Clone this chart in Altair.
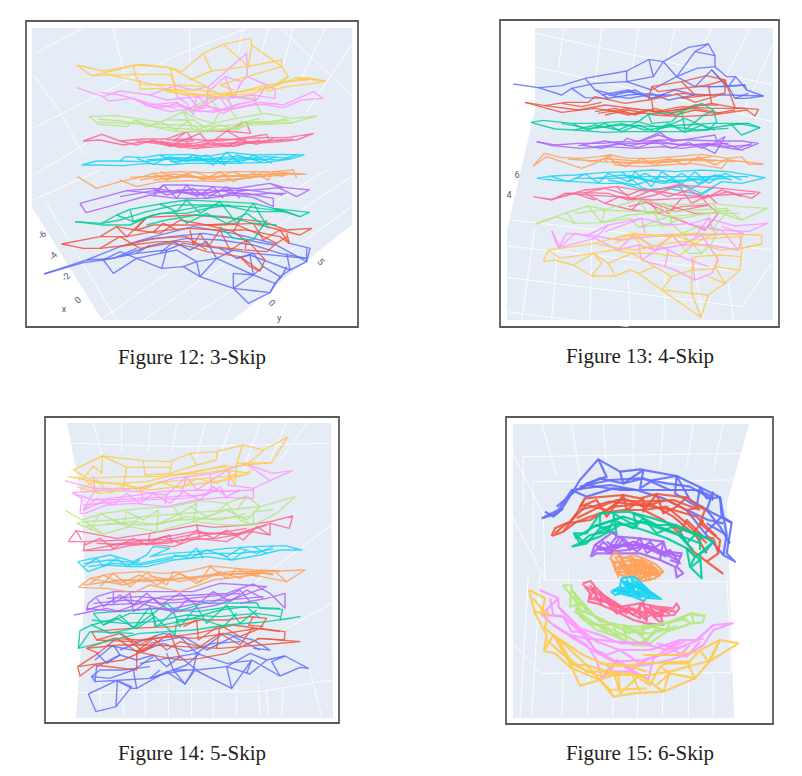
import altair as alt
import pandas as pd

TILES = {"A": (20, 15), "B": (20, 170), "C": (495, 15), "D": (495, 170),
         "E": (40, 410), "F": (40, 570), "G": (500, 410), "H": (500, 575)}
SERIES = ["blue", "red", "green", "purple", "orange", "cyan", "pink", "lime", "magenta", "yellow"]
COLORS = ["#636EFA", "#EF553B", "#00CC96", "#AB63FA", "#FFA15A", "#19D3F3", "#FF6692", "#B6E880", "#FF97FF", "#FECB52"]

# ---------- Figure 12 ----------
F12_BLUE = ("B", [
 [(72,312),(200,270),(300,230),(400,200),(520,170),(640,190),(760,220),(860,275),(870,235),(810,220)],
 [(72,312),(190,278),(250,270),(280,310),(350,265),(425,295),(490,290),(540,320),(640,355),(685,400),(750,368),(765,340),(785,320),(800,290)],
 [(250,270),(350,250),(440,240),(490,220),(600,235),(700,250),(860,265)],
 [(350,265),(420,250),(470,240),(530,275),(590,265),(640,240)],
 [(490,290),(530,275),(540,320)],
 [(640,310),(640,355),(750,368)],
 [(590,265),(700,315),(765,340)],
 [(640,310),(700,315),(730,290),(780,320)],
 [(440,240),(425,295)],
 [(650,265),(690,255),(810,300),(800,250)],
 [(300,260),(400,225),(500,205),(600,210),(700,225),(780,250),(860,265)],
 [(350,215),(450,200),(550,190),(650,205),(760,225)],
 [(860,235),(860,275)],
 [(250,270),(300,245),(350,265)],[(420,250),(460,215),(510,240),(560,215),(590,265)],[(600,235),(650,265),(700,250),(730,290)],
 [(700,315),(690,255)],[(780,320),(810,300),(860,275)],[(350,250),(390,225)],[(200,270),(280,265),(350,235)],
 [(540,320),(590,265)],[(640,355),(700,315)],[(750,368),(780,320)]])
F12_RED = ("B", [
 [(125,222),(240,200),(290,170),(345,180),(380,142),(520,135),(640,145),(730,155),(800,180),(875,175),(840,195),(780,180),(700,160),(600,165),(500,165),(400,165),(350,180)],
 [(125,222),(190,235),(240,235),(300,200),(360,235),(450,220),(510,230),(560,245),(660,260),(720,303),(735,270),(690,220),(640,185),(560,165)],
 [(240,200),(320,200),(400,185),(500,175),(600,180),(680,180),(780,200),(808,220),(800,190)],
 [(510,180),(520,225),(540,190),(565,230),(600,180),(630,240),(680,210),(675,240),(740,245),(770,220),(800,200)],
 [(300,230),(400,205),(500,200),(560,240)],
 [(660,260),(690,290),(720,303)],
 [(240,235),(330,225),(420,215),(500,215),(580,230),(670,240)],[(345,180),(420,190),(480,150),(560,165),(640,160),(710,190),(770,220)],
 [(290,170),(320,200),(380,142)],[(400,185),(430,160),(470,180)],[(700,160),(730,210),(780,180),(808,220)],[(660,150),(640,185)]])
F12_GREEN = ("B", [
 [(165,155),(245,160),(290,135),(330,118),(420,102),(500,90),(600,95),(700,100),(760,115),(868,127),(840,140),(760,115)],
 [(165,155),(250,165),(330,165),(400,135),(460,125),(540,110),(610,105),(700,125),(800,125)],
 [(290,135),(340,155),(420,130),(500,130),(560,115),(630,105)],
 [(420,102),(470,125),(500,90),(540,130),(600,95),(650,160),(700,100),(745,175)],
 [(380,165),(440,150),(530,135),(620,140),(700,160),(770,165)],
 [(600,170),(640,205),(700,210),(740,150)],
 [(330,118),(340,155),(400,135)],[(460,125),(500,160),(560,130),(620,160),(680,130),(730,165)],
 [(245,160),(300,150),(380,125),(470,105),(570,105),(680,110),(800,125)],[(760,115),(800,125),(840,140)]])
F12_PURPLE = ("B", [
 [(180,100),(320,62),(400,70),(430,45),(500,45),(580,50),(650,55),(750,40),(830,80),(868,60),(790,52),(750,40)],
 [(180,100),(198,128),(300,100),(390,75),(470,85),(560,85),(640,75),(700,82),(760,110),(760,85),(680,70),(620,70)],
 [(320,62),(400,55),(480,65),(560,70),(640,55),(720,65),(790,75)],
 [(430,45),(470,85),(500,45),(530,80),(580,50),(610,85)],
 [(400,70),(480,60),(550,60),(620,62),(700,60),(790,52)],
 [(400,55),(440,75),(520,55),(560,85),(620,50),(660,85)],[(470,60),(520,75),(600,62),(680,75),(750,70),(800,70)],
 [(300,80),(400,62),(500,70),(600,78),(680,60)],[(430,45),(400,80)]])
F12_ORANGE = ("B", [
 [(172,20),(230,55),(300,35),(360,22),(400,10),(480,5),(560,8),(650,5),(760,5),(860,13),(780,10),(700,22),(600,35),(500,32),(420,35),(350,50),(300,30)],
 [(400,10),(440,30),(500,10),(550,30),(600,5),(640,35),(700,8),(745,30),(760,5),(820,0),(830,25)],
 [(330,22),(420,18),(520,22),(610,18),(720,20),(800,15)],
 [(420,5),(470,25),(520,5),(580,25),(640,5),(690,25),(730,5),(790,20)],[(360,30),(460,12),(560,25),(660,15),(760,12),(850,12)],
 [(400,30),(500,18),(590,30),(680,25)]])
F12_CYAN = ("A", [
 [(185,450),(230,438),(300,438),(315,425),(370,428),(420,420),(510,418),(560,425),(630,412),(700,420),(780,418),(852,420),(810,432),(740,442),(640,445),(570,445),(500,445),(440,450),(380,445),(310,452),(230,450),(185,450)],
 [(300,438),(370,440),(450,432),(530,438),(590,432),(660,432),(740,425),(810,430)],
 [(420,420),(470,445),(520,420),(580,450),(620,412),(660,445),(700,420),(755,445)],
 [(430,430),(530,428),(610,442),(700,432),(780,435),(830,420)],
 [(615,452),(600,425)],
 [(350,430),(400,448),(450,425),(500,440),(560,420),(610,448),(650,420),(720,440),(770,425)],
 [(450,440),(550,432),(640,425),(720,435)],[(380,435),(480,428),(570,440),(660,440)]])
F12_PINK = ("A", [
 [(190,378),(245,358),(300,378),(370,372),(440,372),(500,350),(620,348),(678,320),(692,355),(620,348),(580,378)],
 [(190,378),(240,375),(310,390),(370,380),(440,390),(520,400),(600,395),(680,385),(760,382),(830,375),(880,356),(800,368),(740,368),(660,370),(600,378),(500,372),(440,375)],
 [(350,378),(440,382),(520,392),(600,385),(700,380),(790,375)],
 [(500,350),(520,378),(460,378),(500,350)],
 [(620,348),(660,370),(740,358),(745,372)],
 [(420,378),(480,398),(560,385),(640,395),(720,375)],
 [(300,378),(350,390),(400,375),(450,395),(490,375),(530,402),(570,380),(620,395),(660,375),(710,388),(760,370)],
 [(400,380),(470,390),(550,395),(640,385),(740,378),(820,372)],[(440,388),(520,385),(600,372),(680,375)],[(500,372),(540,355),(560,378)]])
F12_LIME = ("A", [
 [(208,305),(290,302),(345,310),(420,322),(490,290),(570,250),(625,243),(700,250),(725,295),(700,250)],
 [(208,305),(235,327),(320,335),(345,315),(420,340),(470,350),(580,350),(680,330),(810,325),(890,303),(820,310),(735,295),(650,310),(580,325),(530,310),(490,292),(520,345)],
 [(235,312),(300,318),(345,325),(400,335),(470,340),(560,345),(650,340),(690,325),(810,315)],
 [(570,250),(600,290),(580,325),(540,340)],
 [(625,243),(635,290),(650,310)],
 [(440,315),(520,315),(560,340)],
 [(660,320),(740,325),(820,322)],
 [(345,315),(380,335),(420,320),(470,345),(500,320),(550,350),(600,330),(650,345),(700,320),(760,320),(800,310)],
 [(400,328),(480,330),(560,335),(640,330),(720,310)],[(235,320),(300,325),(350,325)],[(570,250),(520,290),(490,292)]])
F12_MAGENTA = ("A", [
 [(170,218),(250,245),(300,228),(390,240),(465,212),(520,225),(565,215),(680,115),(682,185),(740,210),(765,222),(765,250),(700,240),(620,250)],
 [(250,245),(265,258),(340,250),(390,270),(470,262),(500,280),(560,270),(610,295),(640,280),(720,262),(790,270),(880,230),(908,250),(845,255),(790,278),(730,268)],
 [(340,250),(380,272),(450,290),(500,283),(580,292),(650,270),(710,255),(625,245)],
 [(465,212),(470,245),(500,265),(520,300),(530,240),(560,270),(565,215)],
 [(615,185),(665,200),(640,250),(615,185),(560,235)],
 [(680,185),(665,200)],
 [(390,240),(440,255),(530,245),(620,250),(640,278)],
 [(240,232),(300,240),(380,262),(470,280)],
 [(370,265),(420,280),(470,265),(520,285),(570,275),(610,285),(660,265)],[(400,275),(470,272),(540,290),(620,285),(700,270),(770,265)],
 [(500,240),(540,280),(600,245),(625,285)],[(700,240),(710,255),(740,210)]])
F12_YELLOW = ("A", [
 [(170,150),(215,182),(290,165),(345,150),(450,158),(510,190),(560,215),(600,240),(680,228),(760,215),(830,188),(915,198),(860,188),(780,205),(700,235),(590,245),(480,235),(430,225)],
 [(170,150),(250,168),(340,152),(365,148),(450,158),(485,170),(550,115),(610,88),(692,70),(695,90),(785,155),(805,185),(740,225)],
 [(550,115),(575,168),(510,195),(575,168),(680,155),(785,135),(785,155),(680,185),(600,210)],
 [(610,88),(685,155),(695,90)],
 [(215,182),(345,178),(450,178),(465,210),(450,158)],
 [(340,152),(345,178),(360,208),(465,210),(560,215)],
 [(360,195),(360,222),(430,220),(520,235),(590,245)],
 [(250,175),(360,200),(430,215)],
 [(465,210),(470,240)],
 [(805,185),(780,205)],
 [(830,188),(915,198),(880,205),(800,215),(740,230)],
 [(430,225),(480,225),(540,225),(600,235),(660,230),(720,215),(800,200)],[(440,230),(500,240),(580,238),(650,238)],
 [(800,200),(860,195),(830,188)],[(600,210),(640,225)]])

# ---------- Figure 13 ----------
F13_BLUE = ("C", [
 [(55,207),(130,218),(200,212),(270,190),(395,168),(462,133),(505,140),(580,97),(640,87),(660,122),(660,155),(695,185),(722,185),(755,225),(805,243),(755,250),(720,250),(700,215),(640,215)],
 [(462,133),(475,185),(395,200),(395,168)],
 [(505,140),(545,185),(600,110),(640,87)],
 [(475,185),(505,140)],
 [(600,110),(660,122)],
 [(545,185),(600,215),(650,165),(695,215),(750,210),(755,225)],
 [(130,218),(200,240),(230,220),(270,248),(340,250),(400,240),(470,235),(520,255),(600,240),(700,240),(805,243)],
 [(270,190),(300,225),(340,250)],
 [(230,220),(300,205),(395,200),(470,225),(545,185)],
 [(320,240),(400,225),(470,250),(540,225),(600,240)],
 [(650,165),(700,215)],
 [(300,225),(360,240),(420,225),(470,250),(510,240)],[(340,240),(400,250),(460,240),(530,240)],[(660,155),(605,160),(545,185)],
 [(700,215),(722,185)],[(600,215),(660,215),(750,210)],[(720,250),(760,235)],[(360,235),(400,230),(440,240)]])
F13_RED = ("C", [
 [(90,262),(200,292),(300,280),(400,295),(470,295),(540,285),(650,265),(720,278),(790,283),(780,303),(755,285),(650,300),(560,305),(480,300),(400,285),(330,300)],
 [(90,262),(150,272),(210,262),(280,262),(300,245),(390,265),(460,255),(470,215),(560,200),(635,182),(690,195),(690,235),(560,250)],
 [(470,215),(490,230),(640,210),(690,195)],
 [(560,200),(600,240)],
 [(690,195),(720,278)],
 [(540,235),(600,262),(690,235)],
 [(150,272),(250,285),(330,270),(410,280),(480,290),(560,275),(650,280),(750,280)],
 [(470,255),(475,290)],
 [(310,295),(400,280),(500,290),(600,280),(680,295)],
 [(300,290),(360,280),(420,300),(480,280),(540,300),(600,285),(660,295),(720,285)],[(340,285),(400,300),(460,285),(520,300),(600,270),(670,270)],
 [(200,265),(260,275),(320,262)],[(640,210),(650,265)],[(460,255),(560,235),(640,240)]])
F13_GREEN = ("C", [
 [(108,322),(145,316),(230,325),(300,325),(370,320),(430,320),(460,298),(560,290),(620,265),(655,285),(665,320),(640,345),(560,350),(480,350),(400,350),(330,352),(240,345)],
 [(108,322),(180,342),(240,345),(300,330),(370,345),(430,320),(500,340),(570,310),(640,340),(730,325),(795,338),(740,360),(710,330),(640,340)],
 [(460,298),(470,325),(530,320),(560,290),(570,345),(620,305),(655,285)],
 [(200,325),(280,340),(380,330),(470,335),(570,330),(650,325),(760,325),(795,338)],
 [(230,325),(280,345),(330,325),(380,350),(430,330),(480,350),(520,325),(570,352),(620,330),(660,345)],
 [(300,340),(380,325),(450,345),(530,335),(610,345),(700,340)],[(710,330),(760,325)]])
F13_PURPLE = ("C", [
 [(125,380),(180,390),(250,385),(320,385),(385,380),(395,370),(430,380),(495,352),(530,380),(660,360),(665,378),(690,365),(660,415),(620,395)],
 [(125,380),(170,392),(260,400),(340,395),(420,400),(500,395),(560,400),(640,390),(740,405),(790,385),(740,378),(670,378),(580,375),(500,375),(420,380),(340,382)],
 [(250,392),(330,378),(400,392),(490,378),(560,392),(640,385),(700,395),(770,390)],
 [(260,390),(320,400),(370,385),(430,398),(480,380),(530,400),(580,382),(620,400),(670,380),(730,400),(770,385)],
 [(300,395),(400,385),(500,385),(600,390),(700,385)],[(430,380),(490,360),(540,375)]])
F13_ORANGE = ("C", [
 [(115,453),(148,415),(200,428),(260,430),(310,425),(345,420),(400,430),(470,430),(540,425),(620,418),(700,430),(740,425),(760,448),(805,448)],
 [(115,453),(155,425),(260,460),(300,445),(345,420),(360,450),(440,455),(510,450),(590,445),(680,460),(700,435),(805,447)],
 [(220,432),(320,440),(400,445),(500,435),(600,432),(720,440)],
 [(330,430),(420,438),(520,442),(650,425)],
 [(280,440),(340,430),(390,455),(440,430),(480,452),(520,430),(570,450),(610,425),(660,450),(700,430)],
 [(360,440),(460,445),(560,435),(660,438)],[(345,420),(330,440)]])
F13_CYAN = ("D", [
 [(125,25),(170,18),(240,15),(320,8),(400,5),(470,0),(540,5),(620,0),(700,5),(810,23),(740,40),(680,35),(620,70),(570,50),(450,60),(380,40),(320,40),(240,35),(170,30),(125,25)],
 [(310,40),(340,10),(400,35),(420,5),(470,50),(500,5),(560,42),(600,5),(640,40),(690,10),(740,30)],
 [(240,25),(350,25),(450,20),(550,20),(650,20),(760,20)],
 [(380,5),(450,60),(520,55),(620,75),(660,50)],
 [(400,15),(500,40),(600,30),(700,25)],
 [(170,20),(220,35),(270,12),(310,38)],[(400,35),(450,10),(510,38),(560,10),(610,40),(660,15),(710,30)],
 [(300,25),(380,15),(470,35),(570,30),(680,15)],[(340,30),(420,45),(500,20),(590,55),(640,30)]])
F13_PINK = ("D", [
 [(115,80),(170,88),(270,60),(365,50),(460,65),(550,45),(680,55),(795,67),(770,85),(700,65),(640,80),(550,75),(470,60),(400,90),(340,70),(270,68),(210,70),(170,90),(115,80)],
 [(270,70),(330,100),(410,120),(490,130),(560,110),(640,105),(670,130),(630,180),(540,145),(490,130),(465,95),(400,110)],
 [(365,50),(410,90),(480,75),(550,45),(590,100),(640,75),(665,100)],
 [(210,70),(360,80),(470,90),(560,85),(680,75),(780,70)],
 [(330,100),(375,80),(465,95),(540,125),(640,105)],
 [(170,88),(240,70),(300,90)],[(270,68),(330,55),(400,75),(450,55),(520,80),(580,60),(630,85),(680,60),(740,80)],
 [(410,120),(440,90),(520,130),(560,85)],[(640,105),(610,70)],[(500,100),(600,130),(670,130)]])
F13_LIME = ("D", [
 [(122,162),(215,128),(280,108),(330,118),(430,90),(520,105),(650,100),(735,110),(818,115),(740,150),(700,120),(640,130)],
 [(122,162),(185,140),(240,160),(320,158),(405,145),(430,172),(530,160),(560,190),(620,250),(650,220),(670,180)],
 [(215,128),(240,160)],
 [(280,108),(320,158),(400,135),(480,130),(560,145),(640,130),(735,130)],
 [(430,90),(460,130),(520,105),(530,160)],
 [(650,100),(680,130),(740,150)],
 [(320,120),(430,125),(520,125),(600,120),(700,115)],
 [(530,190),(580,250),(620,250)],
 [(480,130),(500,170),(560,145)],[(430,172),(520,140),(640,130),(650,180),(700,120)],[(240,130),(330,118),(320,158)],[(560,190),(610,170),(670,180)]])
F13_MAGENTA = ("D", [
 [(170,182),(190,235),(215,190),(280,195),(340,165),(440,145),(520,165),(590,160),(640,145),(720,168),(818,160),(760,185),(680,180),(590,165)],
 [(170,182),(195,232),(300,205),(370,240),(430,225),(480,240),(560,225),(640,225),(730,240),(745,190),(680,170)],
 [(280,195),(370,210),(470,200),(560,195),(650,195),(745,190)],
 [(430,225),(440,270),(510,290),(540,300),(600,330),(650,310),(670,270),(640,225)],
 [(510,290),(520,240)],
 [(590,260),(600,330)],
 [(440,270),(500,230)],
 [(330,185),(440,145),(450,190)],
 [(600,200),(640,145),(660,190)],
 [(195,232),(240,190),(300,205),(340,165)],[(370,240),(420,190),(480,240),(530,195),(560,225),(620,195),(640,225)],
 [(500,230),(570,265),(640,290)],[(680,180),(730,240)]])
F13_YELLOW = ("D", [
 [(145,275),(160,240),(300,220),(410,190),(480,195),(600,190),(800,195),(800,222),(740,235),(735,300),(690,340),(640,375),(618,442),(500,360),(430,310),(405,300),(360,318),(290,318),(235,285),(180,270),(145,275)],
 [(160,240),(195,265),(295,250),(340,280),(410,250),(480,290),(430,310)],
 [(235,285),(295,250),(320,280),(290,318)],
 [(340,280),(360,315)],
 [(480,290),(530,320),(590,300),(600,260),(670,255),(735,260)],
 [(530,320),(500,360),(590,370),(640,375)],
 [(590,370),(618,442)],
 [(590,300),(590,370)],
 [(640,320),(690,340)],
 [(670,255),(660,290),(730,300)],
 [(480,250),(550,260),(600,220),(680,240),(735,235)],
 [(300,220),(340,230),(420,240),(520,220),(640,205),(740,200)],
 [(410,190),(450,240)],
 [(590,300),(665,295)],
 [(360,218),(420,200),(480,230),(540,195),(600,220),(660,190)],[(295,250),(360,240),(410,250),(480,250)],
 [(340,210),(410,195),(520,200),(610,190)],[(660,290),(690,340)],[(735,235),(800,222)],[(735,200),(740,235)]])

# ---------- Figure 14 ----------
F14_BLUE = ("F", [
 [(145,372),(230,332),(275,355),(290,355),(380,305),(435,342),(465,300),(575,355),(635,270),(720,318),(780,292),(805,295),(735,258),(680,270),(630,312),(560,290),(470,300),(400,300),(330,325),(250,330),(165,335),(155,320),(210,325),(280,300),(340,260)],
 [(145,372),(168,425),(228,410),(275,350),(232,332),(228,410)],
 [(165,270),(220,225),(240,255),(170,290),(165,335)],
 [(240,240),(300,215),(370,190),(420,200),(470,250),(550,190),(640,210),(690,240),(640,235)],
 [(380,250),(400,300),(435,342),(460,300),(470,250)],
 [(635,270),(620,310)],
 [(720,318),(695,275),(735,258)],
 [(560,290),(575,355)],
 [(300,280),(380,265),(470,250),(560,280),(630,272)],
 [(280,300),(290,355)],
 [(330,325),(380,310),(440,300)],
 [(330,220),(430,200),(500,240),(580,200),(660,240)],
 [(170,250),(200,280),(240,255),(290,270),(340,255),(380,290),(420,260),(470,300)],[(200,225),(300,245),(370,220),(440,245),(520,220),(600,215)],
 [(155,320),(180,300),(250,300),(330,290)],[(560,290),(630,250),(680,270)],[(400,300),(440,285),(480,250)],[(330,325),(360,300)]])
F14_RED = ("F", [
 [(113,290),(120,318),(165,285),(290,300),(290,245),(360,260),(420,270),(480,265),(560,250),(660,205),(780,215),(660,225),(540,235),(430,230),(340,225),(240,225),(140,235),(175,250),(113,290)],
 [(155,185),(270,175),(400,170),(480,150),(560,150),(630,140),(680,145),(660,175),(735,185),(733,210),(650,205)],
 [(155,185),(170,210),(240,190),(310,245),(390,190),(420,265)],
 [(170,210),(280,215),(350,205),(470,190),(580,165),(720,185)],
 [(640,140),(625,165),(670,170)],
 [(430,170),(470,150),(475,210),(540,165),(530,235)],
 [(290,245),(340,225)],
 [(113,290),(250,270),(340,230)],
 [(175,250),(230,205),(290,245),(340,205),(380,240),(420,215),(480,230),(540,190),(600,225),(640,170)],
 [(140,235),(220,205),(300,210),(380,200),(460,205),(560,190),(650,175)],[(240,190),(300,225),(350,195)],[(540,165),(600,200),(660,175)]])
F14_GREEN = ("F", [
 [(115,235),(120,182),(155,165),(210,190),(280,175),(380,100),(410,125),(490,100),(650,98),(660,115),(728,118),(720,150),(780,140),(680,155),(560,165),(460,180),(300,190),(115,235)],
 [(160,130),(190,165),(270,130),(340,130),(345,170),(440,150),(540,120),(620,110),(660,145)],
 [(160,130),(280,120),(370,115),(470,125),(570,110),(720,115)],
 [(155,165),(230,145),(290,175),(345,140),(405,195),(410,150),(480,145),(550,170),(590,130)],
 [(115,235),(150,185),(280,190)],
 [(190,165),(240,135),(280,175),(330,110),(350,170),(400,125),(420,170),(470,110),(500,160),(560,105),(600,160),(650,120)],
 [(155,150),(250,160),(340,155),(440,135),(540,140),(650,130),(720,140)]])
F14_PURPLE = ("F", [
 [(102,135),(200,115),(240,125),(340,115),(420,125),(530,105),(600,80),(680,50),(620,45),(540,40),(460,65),(370,65),(300,65),(220,65),(170,80),(145,100),(140,120),(190,105),(290,100),(370,80),(470,75),(560,70),(640,42),(690,70),(735,115),(735,70),(680,85),(600,100)],
 [(220,65),(220,100),(270,70),(280,125),(340,85),(400,130),(440,90),(510,100),(600,60),(630,95)],
 [(160,100),(260,90),(360,100),(460,95),(560,90),(670,80)],
 [(170,85),(190,110),(240,75),(280,105),(320,70),(360,105),(420,70),(470,105),(520,65),(570,95),(620,60),(670,85)],
 [(200,85),(300,80),(400,90),(500,80),(600,70)],[(140,115),(230,125),(300,100),(380,120),(470,100)]])
F14_ORANGE = ("F", [
 [(115,52),(200,55),(280,68),(330,45),(420,65),(520,30),(640,15),(740,35),(795,0),(720,3),(640,0),(590,-5),(510,-12),(440,5),(370,10),(300,5),(220,10),(150,25),(115,52)],
 [(150,25),(250,45),(340,20),(420,35),(510,15),(600,10),(700,10)],
 [(180,50),(220,10),(270,50),(320,8),(380,45),(400,5),(480,35),(510,-10),(560,25),(590,-5),(650,20),(670,0)],
 [(220,30),(320,35),(440,25),(540,15),(660,10)],
 [(150,40),(190,15),(240,40),(300,15),(350,45),(420,10),(470,40),(540,5),(600,25),(640,5),(700,15)],
 [(130,45),(250,30),(350,30),(470,20),(570,5),(720,3)],[(640,15),(700,0),(740,35)]])
F14_CYAN = ("E", [
 [(113,455),(210,435),(280,455),(320,435),(340,410),(390,415),(330,440),(390,430),(470,425),(560,415),(640,410),(735,407),(785,420),(720,420),(660,435),(575,450),(500,440),(400,450),(320,470),(270,470),(200,465),(145,485),(113,455)],
 [(130,460),(210,450),(300,460),(400,440),(500,430),(600,430),(700,418)],
 [(440,440),(470,415),(490,445)],
 [(540,430),(575,450),(620,420)],
 [(130,470),(170,445),(190,470),(230,445),(260,470),(300,450)],[(145,470),(220,460),(300,465),(400,445)],
 [(400,435),(450,445),(500,420),(560,440),(600,415),(650,430),(700,410)],[(640,410),(680,430)]])
F14_PINK = ("E", [
 [(85,395),(108,362),(230,385),(330,370),(470,345),(520,352),(620,345),(690,335),(758,318),(748,355),(690,340),(690,375),(620,362),(560,395),(470,385),(400,410),(300,400),(210,420),(130,422),(135,395),(85,395)],
 [(135,395),(250,390),(380,390),(470,370),(600,370),(690,340)],
 [(330,370),(325,395),(390,375),(395,400)],
 [(170,400),(290,405),(420,390),(530,385),(640,365)],
 [(108,362),(125,390)],
 [(135,405),(180,385),(220,415),(280,385),(320,405),(370,380),(420,400),(470,360),(520,385),(560,360),(610,390),(650,350),(690,375)],
 [(210,405),(330,390),(460,365),(580,375),(680,345)],[(130,422),(250,400),(380,400),(500,375),(620,355)],[(470,345),(480,385)]])
F14_LIME = ("E", [
 [(77,302),(125,330),(190,310),(300,295),(400,290),(480,272),(560,280),(620,258),(660,290),(765,260),(710,310),(640,345),(560,345),(460,335),(350,365),(270,350),(190,372),(110,340),(135,335),(220,330),(310,320),(440,310),(560,300),(660,290)],
 [(150,360),(180,310),(250,345),(260,305),(310,330),(355,300),(350,365)],
 [(360,340),(420,310),(470,280),(460,335),(530,310),(560,280),(600,330),(640,345),(640,305),(700,300)],
 [(200,340),(320,345),(420,330),(520,325),(630,320)],
 [(125,350),(190,345),(280,335),(350,345),(440,320),(540,330),(620,310)],[(135,335),(190,372)],[(220,330),(270,350),(300,320)],
 [(450,290),(500,320),(560,300),(620,330),(660,290)],[(400,290),(430,330)],[(620,258),(590,300)]])
F14_MAGENTA = ("E", [
 [(75,212),(160,235),(300,235),(400,205),(520,190),(620,162),(695,190),(757,182),(690,212),(640,235),(640,265),(550,262),(470,270),(380,290),(280,280),(200,285),(135,310),(120,310),(125,265),(97,248),(200,240),(300,245),(380,255),(440,200),(470,240),(570,175),(565,225),(640,235)],
 [(160,198),(165,240),(130,300),(200,270),(300,265),(400,260),(500,255),(540,230),(560,265)],
 [(130,285),(240,275),(340,268),(440,265),(520,245),(640,240)],
 [(510,190),(515,240)],
 [(380,250),(375,285)],
 [(620,162),(690,212)],
 [(130,300),(170,265),(220,285),(260,250),(300,280),(340,250),(390,280),(430,245),(480,270),(520,230),(560,260),(600,240)],
 [(100,250),(160,270),(260,260),(360,245),(480,240),(600,245)],[(440,200),(420,260)],[(300,235),(310,270)]])
F14_YELLOW = ("E", [
 [(100,180),(187,138),(310,152),(390,155),(450,130),(530,125),(608,105),(672,120),(742,82),(695,158),(620,165),(520,175),(400,195),(320,215),(240,220),(160,215),(100,180)],
 [(187,138),(185,190),(160,168),(130,205),(85,200),(160,215),(250,225),(330,240),(450,225),(560,210),(630,190),(560,180),(480,190),(400,195)],
 [(310,152),(315,195),(390,190),(395,155)],
 [(187,138),(260,172),(250,230)],
 [(260,172),(390,172)],
 [(450,130),(470,165),(390,190)],
 [(530,125),(530,150),(470,165)],
 [(608,105),(590,160),(585,225),(560,180)],
 [(672,120),(620,165)],
 [(110,230),(180,250),(280,235),(380,215),(500,205),(610,195),(635,180)],
 [(120,240),(170,210),(210,250),(260,222),(300,245),(360,215),(420,235),(470,205),(530,220),(590,190)],
 [(150,205),(240,200),(340,200),(450,190),(560,165)],[(130,205),(180,250)],[(590,160),(695,158)]])

# ---------- Figure 15 ----------
F15_BLUE = ("G", [
 [(125,325),(170,310),(190,290),(240,210),(295,148),(360,185),(420,178),(530,198),(600,232),(660,262),(665,320),(695,338),(680,430),(705,455),(670,435),(615,370),(560,300),(490,265),(410,240),(330,225),(250,235),(215,240),(175,300),(125,325)],
 [(295,148),(320,200),(260,220),(240,240)],
 [(360,185),(370,220),(430,180),(420,235),(460,210),(530,198),(525,250),(590,290),(600,232)],
 [(530,198),(570,270),(640,310),(695,338)],
 [(240,230),(330,210),(420,205),(500,220),(570,230),(640,270)],
 [(135,305),(160,320),(190,295)],
 [(620,340),(680,375),(660,260)],
 [(260,225),(360,240),(460,240),(530,240)],
 [(640,245),(620,300),(660,350),(690,400)],
 [(170,290),(230,240),(300,205),(370,220),(430,205),(510,240),(590,240),(640,260)],[(215,240),(260,260),(340,235),(410,240)],
 [(600,232),(620,265),(660,262)],[(615,370),(665,320),(695,338)],[(670,435),(680,375)],[(560,300),(625,330),(670,340)]])
F15_RED = ("G", [
 [(155,378),(165,355),(210,335),(230,310),(255,265),(370,255),(420,265),(470,252),(560,262),(615,300),(600,340),(660,390),(655,430),(620,455),(668,490),(620,455),(575,420),(540,370),(490,330),(430,300),(370,300),(300,310),(230,335),(190,365),(155,378)],
 [(255,265),(240,290),(290,270),(320,320),(370,255),(380,300),(430,265),(430,305),(470,252),(490,310),(530,290),(560,262)],
 [(240,300),(330,275),(420,285),(520,300),(590,320),(650,380)],
 [(165,370),(200,340),(270,330),(340,290),(450,280),(520,320),(590,380),(620,430)],
 [(520,350),(580,370),(610,330)],
 [(210,335),(260,285),(320,300),(370,265),(430,290),(500,270),(560,300),(610,290)],[(230,325),(300,290),(350,270),(430,275),(520,270),(600,300)],
 [(540,370),(560,330),(610,380),(640,385),(655,430)],[(430,300),(500,290),(560,340),(620,400)],[(190,365),(230,310)]])
F15_GREEN = ("G", [
 [(215,410),(250,395),(222,370),(260,370),(300,310),(385,305),(460,325),(540,350),(620,385),(640,395),(600,430),(605,505),(570,470),(585,440),(560,415),(500,385),(430,360),(360,340),(300,355),(260,400),(215,410)],
 [(222,370),(240,400),(270,375),(325,365),(340,330),(400,355),(430,325),(470,370),(530,345),(560,400),(590,370),(640,395)],
 [(280,350),(370,320),(450,345),(520,370),(600,400)],
 [(300,310),(300,345),(370,320)],
 [(560,415),(600,450),(575,470)],
 [(225,385),(290,345),(350,375),(340,310),(410,350),(400,310),(470,345),(520,345),(600,380),(600,420)],
 [(240,400),(300,380),(360,345),(440,335),(530,370),(580,420)],[(560,415),(570,470)],[(290,370),(330,350)],[(585,440),(620,420),(640,395)]])
F15_PURPLE = ("G", [
 [(272,440),(285,405),(340,365),(350,380),(420,385),(490,395),(500,425),(545,430),(530,470),(550,490),(530,502),(525,470),(480,450),(420,430),(340,430),(290,430),(272,440)],
 [(285,405),(330,430),(360,380),(390,420),(420,385),(440,430),(490,395),(480,450)],
 [(300,420),(380,400),(470,420),(530,450)],
 [(350,380),(330,405),(400,410)],
 [(300,410),(340,425),(380,420),(430,410),(500,440)],
 [(280,430),(310,395),(340,425),(370,385),(410,425),(450,395),(480,430),(510,420),(540,460),(510,450)],
 [(290,420),(360,405),(440,405),(500,430),(545,440)],[(320,395),(350,415),(400,395),(460,415)]])
F15_ORANGE = ("G", [
 [(330,445),(345,425),(370,445),(400,435),(430,445),(470,465),(490,485),(465,505),(430,513),(400,500),(370,500),(345,480),(345,460),(330,445)],
 [(345,440),(380,490),(365,450),(410,505),(400,445),(440,510),(425,455),(470,500),(445,465),(480,485)],
 [(350,470),(420,465),(470,475)],
 [(355,485),(430,490),(480,490)],
 [(360,455),(420,452),(460,470)],
 [(335,450),(355,500),(365,440),(390,500),(395,440),(420,510),(425,445),(450,510),(450,460),(480,500)],
 [(340,455),(400,470),(345,475),(430,480),(370,495),(470,480),(420,505),(490,485)],
 [(350,440),(440,455),(365,470),(460,470),(385,485),(470,490)]])
F15_CYAN = ("H", [
 [(333,50),(360,35),(365,10),(400,5),(420,20),(450,50),(483,72),(440,68),(432,78),(400,65),(360,55),(345,60),(333,50)],
 [(360,35),(390,60),(380,15),(420,70),(410,20),(450,65),(430,35),(465,65)],
 [(350,48),(420,50),(470,65)],
 [(370,25),(420,35)],
 [(340,50),(380,35),(365,15),(400,45),(395,10),(430,50),(420,25),(460,60),(440,45),(475,68)],
 [(350,55),(400,40),(370,55),(430,65),(400,55),(460,70)],[(370,20),(410,30),(360,45),(440,60)],[(375,30),(440,45)]])
F15_PINK = ("H", [
 [(248,25),(272,18),(285,35),(310,60),(365,95),(420,85),(470,95),(520,100),(530,85),(538,100),(522,120),(460,125),(490,150),(440,145),(400,135),(340,105),(290,85),(265,80),(270,55),(248,25)],
 [(270,30),(305,90),(300,50),(360,115),(360,95),(420,130),(420,85),(465,125),(450,95),(510,115)],
 [(280,65),(350,95),(420,110),(480,120)],
 [(480,115),(490,150)],
 [(285,35),(270,70)],
 [(340,80),(400,120),(430,80),(440,140)],
 [(260,35),(290,60),(280,40),(330,90),(320,70),(380,115),(385,95),(440,135),(440,100),(490,120),(480,100),(525,110)],
 [(268,70),(320,80),(350,115),(400,100),(440,125),(500,105)]])
F15_LIME = ("H", [
 [(188,30),(215,32),(210,95),(250,85),(300,140),(390,155),(440,155),(510,140),(575,115),(615,122),(608,142),(575,145),(500,170),(470,190),(440,212),(400,210),(350,185),(290,165),(240,125),(225,75),(188,30)],
 [(215,45),(260,105),(240,115),(320,170),(300,150),(380,200),(370,150),(430,180),(430,150),(500,165),(510,140)],
 [(215,45),(250,85)],
 [(225,100),(300,130),(380,170),(450,175),(530,155)],
 [(270,140),(340,165),(420,205),(470,170)],
 [(575,115),(580,140)],
 [(225,60),(240,100),(225,110),(280,150),(340,150),(350,180),(410,170),(440,200),(470,160),(520,165)],
 [(240,85),(290,130),(360,160),(420,165),(480,150),(560,130)],[(575,115),(540,130),(575,145)],[(610,122),(580,120)]])
F15_MAGENTA = ("H", [
 [(118,45),(175,70),(175,95),(230,155),(290,200),(360,225),(450,225),(540,195),(590,195),(640,150),(698,145),(640,165),(610,210),(570,235),(510,255),(440,270),(375,275),(445,312),(390,290),(330,290),(305,310),(290,255),(260,210),(210,180),(160,150),(125,118),(175,70),(118,45)],
 [(125,118),(190,125),(245,175),(290,230),(350,260),(430,255),(500,235),(560,210)],
 [(160,150),(220,190),(285,230),(360,270)],
 [(305,310),(330,275)],
 [(445,312),(460,250),(540,195)],
 [(500,215),(560,245)],
 [(210,180),(260,190),(340,200),(450,205)],
 [(470,205),(530,220),(610,190)],
 [(150,70),(160,120),(190,125),(215,170),(250,170),(285,225),(320,240),(360,225),(420,265),(470,240),(540,240),(570,210)],
 [(175,95),(240,160),(300,180),(360,205),(430,205),(500,225),(560,195)],[(330,290),(350,255),(395,285),(445,250)],
 [(590,195),(640,150)],[(560,245),(600,200)]])
F15_YELLOW = ("H", [
 [(87,45),(135,70),(125,118),(145,110),(135,160),(160,180),(210,265),(240,332),(300,315),(340,365),(400,355),(490,350),(585,310),(630,258),(715,205),(660,195),(600,225),(565,265),(500,265),(480,275),(450,330),(395,295),(340,295),(260,270),(190,205),(135,160)],
 [(87,45),(105,115),(140,180),(132,228),(165,235),(215,280),(300,315),(330,345),(440,340)],
 [(140,195),(185,235),(260,290),(340,290),(360,350)],
 [(160,180),(250,240),(330,275),(440,265),(570,260)],
 [(395,295),(420,350)],
 [(490,350),(510,290),(580,270),(630,258)],
 [(600,225),(625,260),(660,195)],
 [(470,330),(510,295),(585,310)],
 [(300,265),(380,270),(440,290)],
 [(430,240),(520,240),(590,230)],
 [(100,70),(135,115),(105,110)],[(175,195),(220,270),(260,270),(300,315),(355,295),(360,355),(420,300),(490,350)],
 [(210,265),(290,300),(350,300),(445,300),(510,290)],[(500,265),(560,260),(585,310)],[(630,258),(660,195)],
 [(132,228),(160,180)],[(340,365),(330,345)],[(480,275),(510,295)]])

PANELS = {
 "12": [F12_BLUE, F12_RED, F12_GREEN, F12_PURPLE, F12_ORANGE, F12_CYAN, F12_PINK, F12_LIME, F12_MAGENTA, F12_YELLOW],
 "13": [F13_BLUE, F13_RED, F13_GREEN, F13_PURPLE, F13_ORANGE, F13_CYAN, F13_PINK, F13_LIME, F13_MAGENTA, F13_YELLOW],
 "14": [F14_BLUE, F14_RED, F14_GREEN, F14_PURPLE, F14_ORANGE, F14_CYAN, F14_PINK, F14_LIME, F14_MAGENTA, F14_YELLOW],
 "15": [F15_BLUE, F15_RED, F15_GREEN, F15_PURPLE, F15_ORANGE, F15_CYAN, F15_PINK, F15_LIME, F15_MAGENTA, F15_YELLOW],
}

# ---------- pale scene floors ----------
FLOORS = {
 "12": [(32,28),(352,28),(352,225),(233,320),(102,320),(32,208)],
 "13": [(535,28),(773,28),(773,320),(507,320),(507,230),(535,110)],
 "14": [(67,423),(331,423),(333,718),(76,718),(85,590),(82,500)],
 "15": [(513,424),(749,424),(727,503),(734,718),(513,718)],
}
# ---------- white grid lines: tile, then end points ----------
GRID_LINES = [
 ("A",[(40,118),(190,40)]),("A",[(280,40),(320,210)]),("A",[(508,40),(510,180)]),("A",[(40,180),(120,290),(190,420)]),
 ("A",[(780,38),(995,240)]),("A",[(915,40),(840,200)]),("A",[(820,40),(790,150)]),("A",[(745,40),(720,130)]),
 ("A",[(670,40),(655,110)]),("A",[(995,90),(860,290)]),("A",[(40,340),(470,120),(680,40)]),("A",[(40,480),(200,385)]),
 ("B",[(80,100),(290,450)]),("B",[(40,120),(245,450)]),("B",[(40,90),(240,0)]),("B",[(240,450),(600,200),(920,0)]),
 ("B",[(370,450),(800,150),(995,20)]),("B",[(500,450),(800,250),(995,110)]),("B",[(640,450),(995,165)]),
 ("C",[(120,55),(833,210)]),("C",[(120,155),(833,320)]),("C",[(205,40),(190,170)]),("C",[(320,40),(300,200)]),
 ("C",[(430,40),(410,170)]),("C",[(540,40),(520,130)]),("C",[(650,40),(620,100)]),("C",[(765,40),(700,170)]),
 ("C",[(833,90),(740,300)]),
 ("D",[(50,150),(830,240)]),("D",[(35,228),(700,300)]),("D",[(35,322),(740,410)]),("D",[(35,425),(400,470)]),
 ("D",[(120,170),(80,450)]),("D",[(190,200),(170,450)]),("D",[(290,200),(285,450)]),("D",[(400,330),(405,450)]),
 ("D",[(510,300),(510,450)]),("D",[(600,300),(625,450)]),("D",[(700,340),(715,450)]),("D",[(830,280),(740,410)]),
 ("E",[(100,100),(430,110),(870,100)]),("E",[(160,40),(190,150)]),("E",[(245,40),(245,130)]),("E",[(330,40),(325,130)]),
 ("E",[(410,40),(395,130)]),("E",[(495,40),(470,140)]),("E",[(575,40),(540,140)]),("E",[(660,40),(610,180)]),
 ("E",[(740,40),(690,150)]),("E",[(800,40),(720,150)]),("E",[(875,345),(640,520)]),
 ("F",[(110,368),(660,365),(875,330)]),("F",[(180,340),(180,440)]),("F",[(250,340),(250,440)]),("F",[(315,340),(315,440)]),
 ("F",[(385,340),(385,440)]),("F",[(455,350),(455,440)]),("F",[(520,350),(520,440)]),("F",[(590,350),(590,440)]),
 ("F",[(655,340),(660,440)]),("F",[(680,360),(685,440)]),("F",[(730,180),(875,100)]),("F",[(730,360),(725,440)]),
 ("F",[(810,300),(845,440)]),
 ("G",[(70,140),(725,130)]),("G",[(100,215),(700,210)]),("G",[(125,40),(170,200)]),("G",[(215,40),(240,200)]),
 ("G",[(310,40),(320,180)]),("G",[(400,40),(400,180)]),("G",[(490,40),(480,180)]),("G",[(580,40),(560,170)]),
 ("G",[(670,40),(640,180)]),("G",[(70,140),(70,300)]),("G",[(100,215),(100,420)]),("G",[(38,130),(130,310),(135,510)]),
 ("G",[(38,320),(135,510),(680,515)]),("G",[(205,480),(205,540)]),
 ("H",[(40,205),(122,295),(695,293)]),("H",[(85,0),(60,430)]),("H",[(120,0),(95,425)]),("H",[(190,300),(185,425)]),
 ("H",[(265,300),(262,425)]),("H",[(340,300),(338,425)]),("H",[(415,300),(412,425)]),("H",[(490,300),(487,425)]),
 ("H",[(565,300),(565,425)]),("H",[(640,300),(640,425)]),("H",[(680,0),(695,290)]),
]
# frames: left, top, right, bottom
FRAMES = [(26,21,358,327),(500,20,779,327),(45,417,339,723),(506,417,773,724)]
CAPTIONS = ["Figure 12:  3-Skip","Figure 13:  4-Skip","Figure 14:  5-Skip","Figure 15:  6-Skip"]
CAPTION_X = [192,640,192,640]
CAPTION_Y = [358,357,754,754]
TICK_TEXT = ["-6","-4","-2","0","5","0","6","4","x","y"]
TICK_X = [42,53,66,78,321,272,517,509,64,279]
TICK_Y = [235,256,277,300,262,303,175,195,309,318]
TICK_ANGLE = [315,315,315,315,45,45,0,0,0,0]

def conv(tile, pts):
    ox, oy = TILES[tile]
    return [(px / 3 + ox, py / 3 + oy) for px, py in pts]

rows = []
for panel, meshes in PANELS.items():
    for name, (tile, strands) in zip(SERIES, meshes):
        for k, strand in enumerate(strands):
            for i, (x, y) in enumerate(conv(tile, strand)):
                rows.append(dict(panel=panel, series=name, strand=f"{panel}-{name}-{k}", o=i, x=x, y=y))
wire = pd.DataFrame(rows)

floor = pd.DataFrame([dict(panel=p, o=i, x=x, y=y) for p, pts in FLOORS.items() for i, (x, y) in enumerate(pts)])
grid = pd.DataFrame([dict(g=n, o=i, x=x, y=y) for n, (t, pts) in enumerate(GRID_LINES) for i, (x, y) in enumerate(conv(t, pts))])
frames = pd.DataFrame(FRAMES, columns=["l", "t", "r", "b"])
caps = pd.DataFrame(dict(t=CAPTIONS, x=CAPTION_X, y=CAPTION_Y))
ticks = pd.DataFrame(dict(t=TICK_TEXT, x=TICK_X, y=TICK_Y, a=TICK_ANGLE))

X = alt.X("x:Q", axis=None, scale=alt.Scale(domain=[8, 794], nice=False, zero=False))
Y = alt.Y("y:Q", axis=None, scale=alt.Scale(domain=[768, 8], nice=False, zero=False))

frame_layer = alt.Chart(frames).mark_rect(fill="white", stroke="#5a5a5a", strokeWidth=1.8).encode(
    x=alt.X("l:Q", axis=None, scale=alt.Scale(domain=[8, 794], nice=False, zero=False)), x2="r:Q",
    y=alt.Y("t:Q", axis=None, scale=alt.Scale(domain=[768, 8], nice=False, zero=False)), y2="b:Q")
floor_layer = alt.Chart(floor).mark_line(fill="#E5ECF6", strokeWidth=0).encode(
    x=X, y=Y, detail="panel:N", order="o:Q")
grid_layer = alt.Chart(grid).mark_line(color="white", strokeWidth=1, opacity=0.85).encode(
    x=X, y=Y, detail="g:N", order="o:Q")
color = alt.Color("series:N", legend=None, scale=alt.Scale(domain=SERIES, range=COLORS))
wire_thin = alt.Chart(wire[wire.panel != "15"]).mark_line(strokeWidth=1.4, opacity=0.85, strokeJoin="round").encode(
    x=X, y=Y, color=color, detail="strand:N", order="o:Q")
wire_thick = alt.Chart(wire[wire.panel == "15"]).mark_line(strokeWidth=2.2, opacity=0.9, strokeJoin="round").encode(
    x=X, y=Y, color=color, detail="strand:N", order="o:Q")
tick_layer = alt.Chart(ticks).mark_text(font="Roboto", fontSize=9, color="#4a5a75").encode(
    x=X, y=Y, text="t:N", angle=alt.Angle("a:Q", scale=None))
cap_layer = alt.Chart(caps).mark_text(font="Liberation Serif", fontSize=21, color="#222222", baseline="middle").encode(
    x=X, y=Y, text="t:N")

chart = alt.layer(frame_layer, floor_layer, grid_layer, wire_thin, wire_thick, tick_layer, cap_layer).properties(
    width=786, height=760, background="white", padding=0,
    autosize=alt.AutoSizeParams(type="none")
).configure_view(stroke=None)
chart.save("out.html", embed_options={"renderer": "svg", "actions": False})
